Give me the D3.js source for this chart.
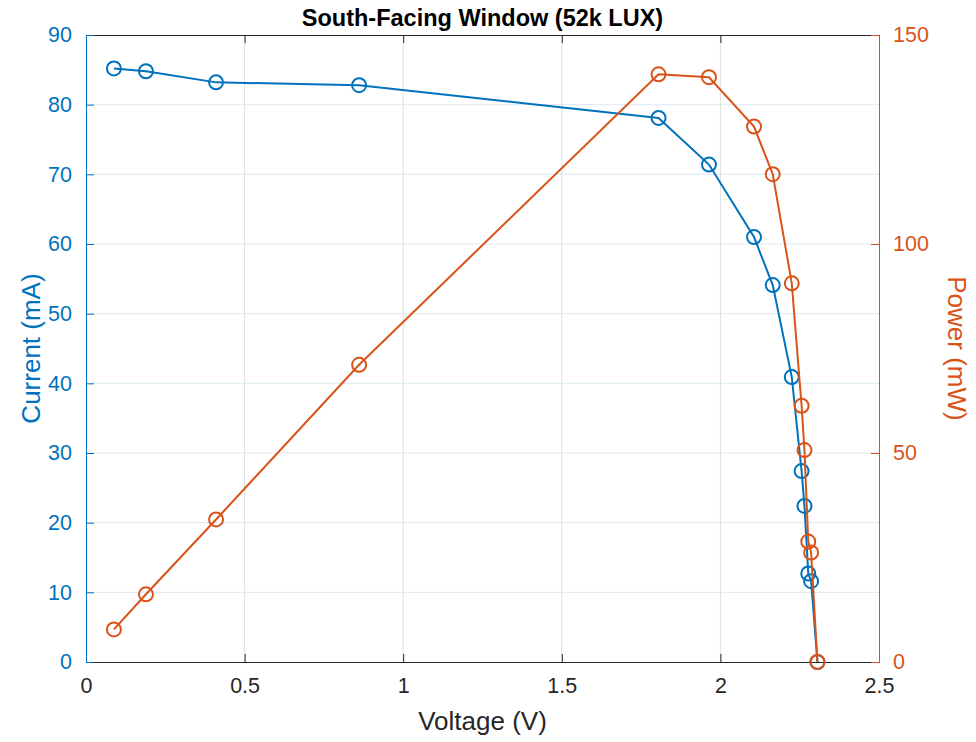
<!DOCTYPE html>
<html>
<head>
<meta charset="utf-8">
<script src="https://cdn.jsdelivr.net/npm/d3@7"></script>
<style>
  html, body { margin: 0; padding: 0; background: #fff; }
  svg { display: block; font-family: "Liberation Sans", Arial, Helvetica, sans-serif; }
</style>
</head>
<body>
<svg id="chart" width="976" height="742"></svg>
<script>
// Measured operating points of the panel
const voltage = [0.088, 0.189, 0.410, 0.861, 1.805, 1.964, 2.106, 2.165, 2.225, 2.256, 2.265, 2.277, 2.286, 2.306];
const current = [85.2, 84.8, 83.2, 82.8, 78.1, 71.4, 61.0, 54.1, 40.9, 27.4, 22.4, 12.7, 11.6, 0];
const power   = [7.8, 16.2, 34.1, 71.1, 140.6, 139.9, 128.1, 116.7, 90.6, 61.3, 50.7, 28.8, 26.2, 0];

const xTicks = [0, 0.5, 1, 1.5, 2, 2.5];
const xTickLabels = ["0", "0.5", "1", "1.5", "2", "2.5"];
const leftTicks = [0, 10, 20, 30, 40, 50, 60, 70, 80, 90];
const rightTicks = [0, 50, 100, 150];

const titleText = "South-Facing Window (52k LUX)";
const xLabel = "Voltage (V)";
const leftLabel = "Current (mA)";
const rightLabel = "Power (mW)";

const blue = "#0072BD";
const orange = "#D95319";
const axisGray = "#262626";

const svg = d3.select("#chart");
const m = { left: 86, right: 879, top: 35, bottom: 662 };

const x = d3.scaleLinear().domain([0, 2.5]).range([m.left, m.right]);
const yL = d3.scaleLinear().domain([0, 90]).range([m.bottom, m.top]);
const yR = d3.scaleLinear().domain([0, 150]).range([m.bottom, m.top]);

// grid
const grid = svg.append("g");
grid.selectAll("line.vx").data(xTicks.slice(1, -1)).enter().append("line")
  .attr("x1", d => x(d)).attr("x2", d => x(d))
  .attr("y1", m.top).attr("y2", m.bottom)
  .attr("stroke", "#dfdfdf").attr("stroke-width", 1);
grid.selectAll("line.hy").data(leftTicks.slice(1, -1)).enter().append("line")
  .attr("x1", m.left).attr("x2", m.right)
  .attr("y1", d => yL(d)).attr("y2", d => yL(d))
  .attr("stroke", "#dde9f3").attr("stroke-width", 1);

// axes (ticks point inward)
const tickLen = 8;
const fontSize = 21.5;
const tickFont = "Liberation Sans, Arial, sans-serif";

const bottomAxis = d3.axisBottom(x).tickValues(xTicks)
  .tickFormat((d, i) => xTickLabels[i]).tickSizeInner(-tickLen).tickSizeOuter(0).tickPadding(16);
const gB = svg.append("g").attr("transform", `translate(0,${m.bottom})`).call(bottomAxis);
gB.select(".domain").attr("stroke", axisGray);
gB.selectAll(".tick line").attr("stroke", axisGray);
gB.selectAll(".tick text").attr("fill", axisGray).attr("font-size", fontSize)
  .attr("font-family", tickFont);

const topAxis = d3.axisTop(x).tickValues(xTicks).tickFormat("")
  .tickSizeInner(-tickLen).tickSizeOuter(0);
const gT = svg.append("g").attr("transform", `translate(0,${m.top})`).call(topAxis);
gT.select(".domain").attr("stroke", axisGray);
gT.selectAll(".tick line").attr("stroke", axisGray);

const leftAxis = d3.axisLeft(yL).tickValues(leftTicks)
  .tickSizeInner(-tickLen).tickSizeOuter(0).tickPadding(14);
const gL = svg.append("g").attr("transform", `translate(${m.left},0)`).call(leftAxis);
gL.select(".domain").attr("stroke", blue);
gL.selectAll(".tick line").attr("stroke", blue);
gL.selectAll(".tick text").attr("fill", blue).attr("font-size", fontSize)
  .attr("font-family", tickFont);

const rightAxis = d3.axisRight(yR).tickValues(rightTicks)
  .tickSizeInner(-tickLen).tickSizeOuter(0).tickPadding(14);
const gR = svg.append("g").attr("transform", `translate(${m.right},0)`).call(rightAxis);
gR.select(".domain").attr("stroke", orange);
gR.selectAll(".tick line").attr("stroke", orange);
gR.selectAll(".tick text").attr("fill", orange).attr("font-size", fontSize)
  .attr("font-family", tickFont);

// series
const pts = voltage.map((v, i) => ({ v, i: current[i], p: power[i] }));

function drawSeries(accY, color) {
  const g = svg.append("g");
  g.append("path").datum(pts)
    .attr("d", d3.line().x(d => x(d.v)).y(accY))
    .attr("fill", "none").attr("stroke", color).attr("stroke-width", 2);
  g.selectAll("circle").data(pts).enter().append("circle")
    .attr("cx", d => x(d.v)).attr("cy", accY).attr("r", 7)
    .attr("fill", "none").attr("stroke", color).attr("stroke-width", 2);
}
drawSeries(d => yL(d.i), blue);
drawSeries(d => yR(d.p), orange);

// labels
svg.append("text").attr("x", (m.left + m.right) / 2).attr("y", 26)
  .attr("text-anchor", "middle").attr("font-size", 23.5).attr("font-weight", "bold")
  .attr("fill", "#000").text(titleText);

svg.append("text").attr("x", (m.left + m.right) / 2).attr("y", 730)
  .attr("text-anchor", "middle").attr("font-size", 26)
  .attr("fill", axisGray).text(xLabel);

svg.append("text").attr("transform", `translate(40,${(m.top + m.bottom) / 2}) rotate(-90)`)
  .attr("text-anchor", "middle").attr("font-size", 26)
  .attr("fill", blue).text(leftLabel);

svg.append("text").attr("transform", `translate(948,${(m.top + m.bottom) / 2}) rotate(90)`)
  .attr("text-anchor", "middle").attr("font-size", 26)
  .attr("fill", orange).text(rightLabel);
</script>
</body>
</html>
